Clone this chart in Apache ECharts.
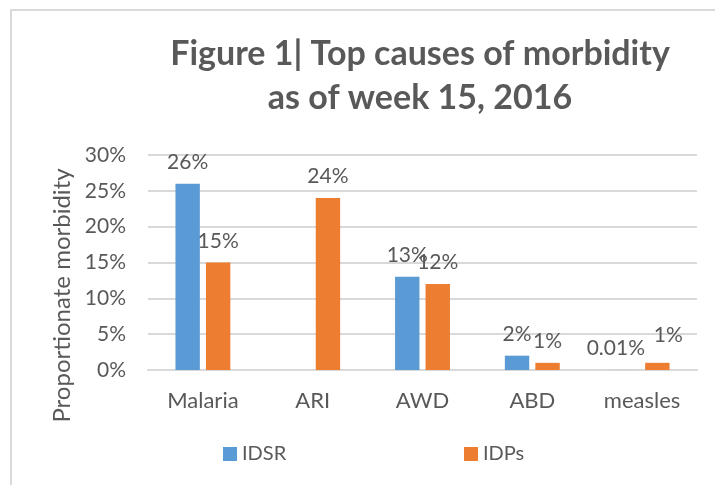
<!DOCTYPE html>
<html>
<head>
<meta charset="utf-8">
<script src="https://cdn.jsdelivr.net/npm/echarts@6/dist/echarts.min.js"></script>
<style>
html,body{margin:0;padding:0;background:#fff;}
#frame{position:absolute;left:10px;top:9px;width:720px;height:490px;border-left:2px solid #d9d9d9;border-top:2px solid #d9d9d9;}
#c{position:absolute;left:0;top:0;width:715px;height:485px;}
</style>
</head>
<body>
<div id="frame"></div>
<div id="c"></div>
<script>
var categories = ['Malaria', 'ARI', 'AWD', 'ABD', 'measles'];
var idsrValues = [26, null, 13, 2, 0.01];
var idpValues = [15, 24, 12, 1, 1];
var yTicks = [0, 5, 10, 15, 20, 25, 30];

var FONT = 'Lato';
var TXT = '#595959';
var chart = echarts.init(document.getElementById('c'), null, {renderer: 'canvas'});
chart.setOption({
  animation: false,
  backgroundColor: 'transparent',
  title: {
    text: 'Figure 1| Top causes of morbidity\nas of week 15, 2016',
    left: 415, top: 27, textAlign: 'center',
    textStyle: {fontFamily: FONT, fontWeight: 'bold', fontSize: 34, color: TXT, lineHeight: 44}
  },
  legend: [{
    data: ['IDSR'], left: 218, top: 439, itemWidth: 14, itemHeight: 14, itemGap: 6,
    icon: 'rect', textStyle: {fontFamily: FONT, fontSize: 20, color: TXT}
  }, {
    data: ['IDPs'], left: 459, top: 439, itemWidth: 14, itemHeight: 14, itemGap: 6,
    icon: 'rect', textStyle: {fontFamily: FONT, fontSize: 20, color: TXT}
  }],
  grid: {left: 148, right: 18, top: 155, bottom: 115, containLabel: false},
  xAxis: {
    type: 'category', data: categories,
    axisLine: {lineStyle: {color: '#d9d9d9', width: 2}},
    axisTick: {show: false},
    axisLabel: {fontFamily: FONT, fontSize: 22, color: TXT, margin: 20}
  },
  yAxis: {
    type: 'value', min: yTicks[0], max: yTicks[yTicks.length-1], interval: 5,
    name: 'Proportionate morbidity', nameLocation: 'middle', nameGap: 74, nameRotate: 90,
    nameTextStyle: {fontFamily: FONT, fontSize: 24, color: TXT, padding: [0, 66, 0, 0]},
    axisLine: {show: false}, axisTick: {show: false},
    splitLine: {lineStyle: {color: '#d9d9d9', width: 2}},
    axisLabel: {fontFamily: FONT, fontSize: 21, color: TXT, margin: 22, formatter: '{value}%'}
  },
  series: [{
    name: 'IDSR', type: 'bar', data: idsrValues.map(function(v, i){
      if (i === 4) return {value: v, label: {offset: [-11, 0]}};
      return v;
    }),
    itemStyle: {color: '#5B9BD5'},
    barGap: '25%', barCategoryGap: '50%',
    label: {show: true, position: 'top', distance: 11, fontFamily: FONT, fontSize: 21, color: TXT,
      formatter: function(p){ return p.value + '%'; }}
  }, {
    name: 'IDPs', type: 'bar', data: idpValues.map(function(v, i){
      if (i === 4) return {value: v, label: {offset: [11, -6]}};
      return v;
    }),
    itemStyle: {color: '#ED7D31'},
    barGap: '25%', barCategoryGap: '50%',
    label: {show: true, position: 'top', distance: 11, fontFamily: FONT, fontSize: 21, color: TXT,
      formatter: function(p){ return p.value + '%'; }}
  }]
});
</script>
</body>
</html>
